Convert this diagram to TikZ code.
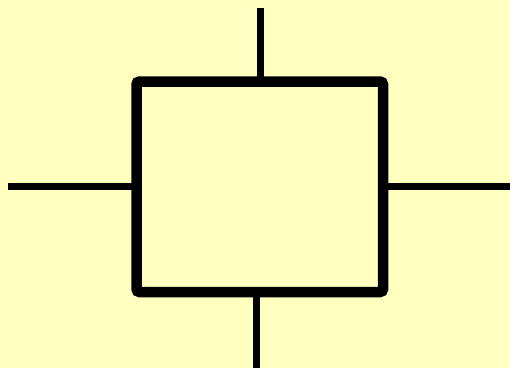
\documentclass[tikz,border=0pt]{standalone}
\usepackage{tikz}
\usetikzlibrary{positioning,calc}

\definecolor{paper}{RGB}{255,255,192}

\begin{document}
\begin{tikzpicture}[x=1pt, y=-1pt,
  block/.style={draw=black, line width=10.5pt, rounded corners=3pt,
                minimum width=246.5pt, minimum height=210.5pt, inner sep=0pt, outer sep=0pt},
  stub/.style={draw=black, line width=7pt},
]
  % background
  \fill[paper] (0,0) rectangle (510,368);
  \useasboundingbox (0,0) rectangle (510,368);

  \node[block] (blk) at (259.75,186.75) {};

  % stubs
  \coordinate (tOut) at (260.7,8);
  \coordinate (bOut) at (256,368);
  \coordinate (lOut) at (8,186);
  \coordinate (rOut) at (510,186);
  \draw[stub] (tOut) -- (tOut |- blk.north);
  \draw[stub] (bOut) -- (bOut |- blk.south);
  \draw[stub] (lOut) -- (lOut -| blk.west);
  \draw[stub] (rOut) -- (rOut -| blk.east);
\end{tikzpicture}
\end{document}
